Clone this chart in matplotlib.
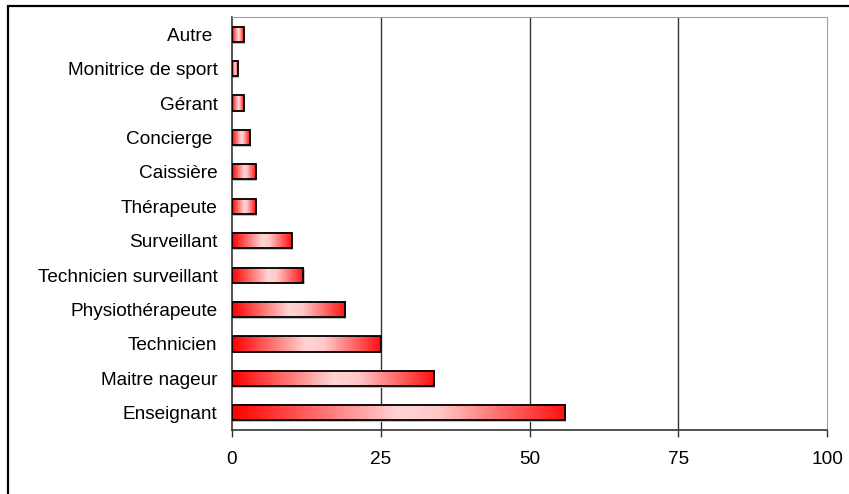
import numpy as np
import matplotlib
matplotlib.use("Agg")
import matplotlib.pyplot as plt
from matplotlib.colors import LinearSegmentedColormap
from matplotlib.patches import Rectangle

plt.rcParams['font.family'] = ['Liberation Sans', 'DejaVu Sans']

# professions (bottom to top) and counts
metiers = ["Enseignant", "Maitre nageur", "Technicien", "Physiothérapeute",
           "Technicien surveillant", "Surveillant", "Thérapeute", "Caissière",
           "Concierge ", "Gérant", "Monitrice de sport", "Autre "]
effectifs = [56, 34, 25, 19, 12, 10, 4, 4, 3, 2, 1, 2]
graduations = [0, 25, 50, 75, 100]

fig = plt.figure(figsize=(8.49, 4.94), dpi=100)
ax = fig.add_axes([232/849, 1 - 430/494, 595/849, 413/494])

# outer frame, running off the right and bottom edges
fig.patches.append(Rectangle((8/849, -0.1), 1.2, 1 - 6/494 + 0.1,
                             transform=fig.transFigure, fill=False,
                             edgecolor='black', linewidth=1.6, zorder=10))

# horizontal red -> pale pink -> red fill
cmap = LinearSegmentedColormap.from_list(
    "degrade", [(0, "#ff0000"), (0.5, "#ffd4d4"), (0.62, "#ffc8c8"), (1, "#ff1010")])
grad = np.linspace(0, 1, 256).reshape(1, -1)

h = 0.44
y = np.arange(len(metiers))
for yi, v in zip(y, effectifs):
    # light shadow under each bar
    ax.add_patch(Rectangle((0.2, yi - h/2 - 0.05), v, h, facecolor='#c0c0c0',
                           edgecolor='none', zorder=2))
    ax.imshow(grad, extent=[0, v, yi - h/2, yi + h/2], aspect='auto',
              cmap=cmap, zorder=3, interpolation='bilinear')
ax.barh(y, effectifs, height=h, fill=False, edgecolor='black', linewidth=1.3, zorder=4)

ax.set_xlim(0, 100)
ax.set_ylim(-0.5, len(metiers) - 0.5)
ax.set_xticks(graduations)
ax.set_xticklabels([str(g) for g in graduations])
ax.set_yticks(y)
ax.set_yticklabels(metiers)

for g in graduations[1:-1]:
    ax.axvline(g, color='#333333', linewidth=1.0, zorder=1)

ax.tick_params(axis='y', length=0, pad=10.5, labelsize=13.7)
ax.tick_params(axis='x', length=5, width=1, color='#333333', pad=10, labelsize=13.7)

ax.spines['left'].set_color('#333333')
ax.spines['bottom'].set_color('#333333')
ax.spines['left'].set_linewidth(1.2)
ax.spines['bottom'].set_linewidth(1.2)
ax.spines['top'].set_color('#a0a0a0')
ax.spines['right'].set_color('#a0a0a0')

fig.savefig("out.png", dpi=100)
